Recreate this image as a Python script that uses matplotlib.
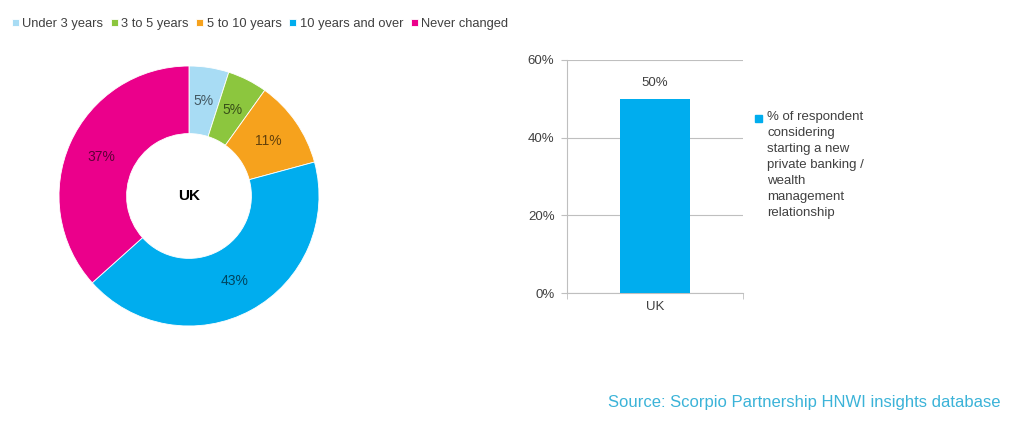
import numpy as np
import matplotlib
matplotlib.use("Agg")
from matplotlib import pyplot as plt
from matplotlib.patches import Rectangle

plt.rcParams['font.family'] = ['Liberation Sans', 'DejaVu Sans']

# donut data
tenure_labels = ['Under 3 years', '3 to 5 years', '5 to 10 years', '10 years and over', 'Never changed']
tenure_values = [5, 5, 11, 43, 37]
tenure_colors = ['#A8DCF4', '#8CC63E', '#F6A21D', '#00ADEE', '#EB008B']

# bar data
bar_categories = ['UK']
bar_values = [50]
bar_label = '% of respondent\nconsidering\nstarting a new\nprivate banking /\nwealth\nmanagement\nrelationship'
bar_color = '#00ADEE'
y_ticks = [0, 20, 40, 60]

text_col = '#404040'
grid_col = '#BFBFBF'

fig = plt.figure(figsize=(10.24, 4.23), dpi=100)

# donut
ax1 = fig.add_axes([59 / 1024, (423 - 326) / 423, 260 / 1024, 260 / 423])
wedges, texts = ax1.pie(tenure_values, colors=tenure_colors, startangle=90, counterclock=False,
                        radius=1, wedgeprops=dict(width=0.52, edgecolor='white', linewidth=0.6))
for w, v in zip(wedges, tenure_values):
    ang = np.deg2rad((w.theta1 + w.theta2) / 2)
    r = 0.74
    ax1.text(r * np.cos(ang), r * np.sin(ang), '%d%%' % v, ha='center', va='center',
             fontsize=10, color='black', alpha=0.6)
ax1.text(0, 0, 'UK', ha='center', va='center', fontsize=11, fontweight='bold', color='black')
ax1.set_xlim(-1, 1)
ax1.set_ylim(-1, 1)
ax1.set_aspect('equal')
ax1.axis('off')

# top legend
fig.legend(wedges, tenure_labels, loc='upper left', bbox_to_anchor=(0.0, 0.985), ncol=5,
           frameon=False, fontsize=9.3, handlelength=0.55, handleheight=0.55,
           handletextpad=0.25, columnspacing=0.6, labelcolor=text_col)

# bar chart
ax2 = fig.add_axes([567 / 1024, (423 - 293) / 423, 176 / 1024, 233 / 423])
x = np.arange(len(bar_categories))
bars = ax2.bar(x, bar_values, width=0.4, color=bar_color, zorder=3)
for xi, v in zip(x, bar_values):
    ax2.text(xi, v + 2.5, '%d%%' % v, ha='center', va='bottom', fontsize=9.5, color=text_col)
ax2.set_xlim(-0.5, 0.5)
ax2.set_ylim(0, 60)
ax2.set_yticks(y_ticks)
ax2.set_yticklabels(['%d%%' % t for t in y_ticks])
ax2.yaxis.grid(True, color=grid_col, linewidth=0.8, zorder=0)
ax2.set_xticks(x)
ax2.set_xticklabels(bar_categories)
ax2.set_xticks([-0.5, 0.5], minor=True)
ax2.tick_params(axis='x', which='major', length=0, labelsize=9.5, labelcolor=text_col, pad=6)
ax2.tick_params(axis='x', which='minor', length=4, color=grid_col)
ax2.tick_params(axis='y', length=4, color=grid_col, labelsize=9.5, labelcolor=text_col, pad=5)
for s in ['top', 'right']:
    ax2.spines[s].set_visible(False)
for s in ['left', 'bottom']:
    ax2.spines[s].set_color(grid_col)
    ax2.spines[s].set_linewidth(0.8)

# bar legend
fig.patches.append(Rectangle((755 / 1024, (423 - 122) / 423), 7 / 1024, 7 / 423,
                             transform=fig.transFigure, color=bar_color))
fig.text(767 / 1024, (423 - 111) / 423, bar_label, ha='left', va='top', fontsize=9.5,
         color=text_col, linespacing=1.45)

fig.text(1000 / 1024, (423 - 402) / 423, 'Source: Scorpio Partnership HNWI insights database',
         ha='right', va='center', fontsize=12, color='#3BB3D8')

fig.savefig('out.png', dpi=100)
